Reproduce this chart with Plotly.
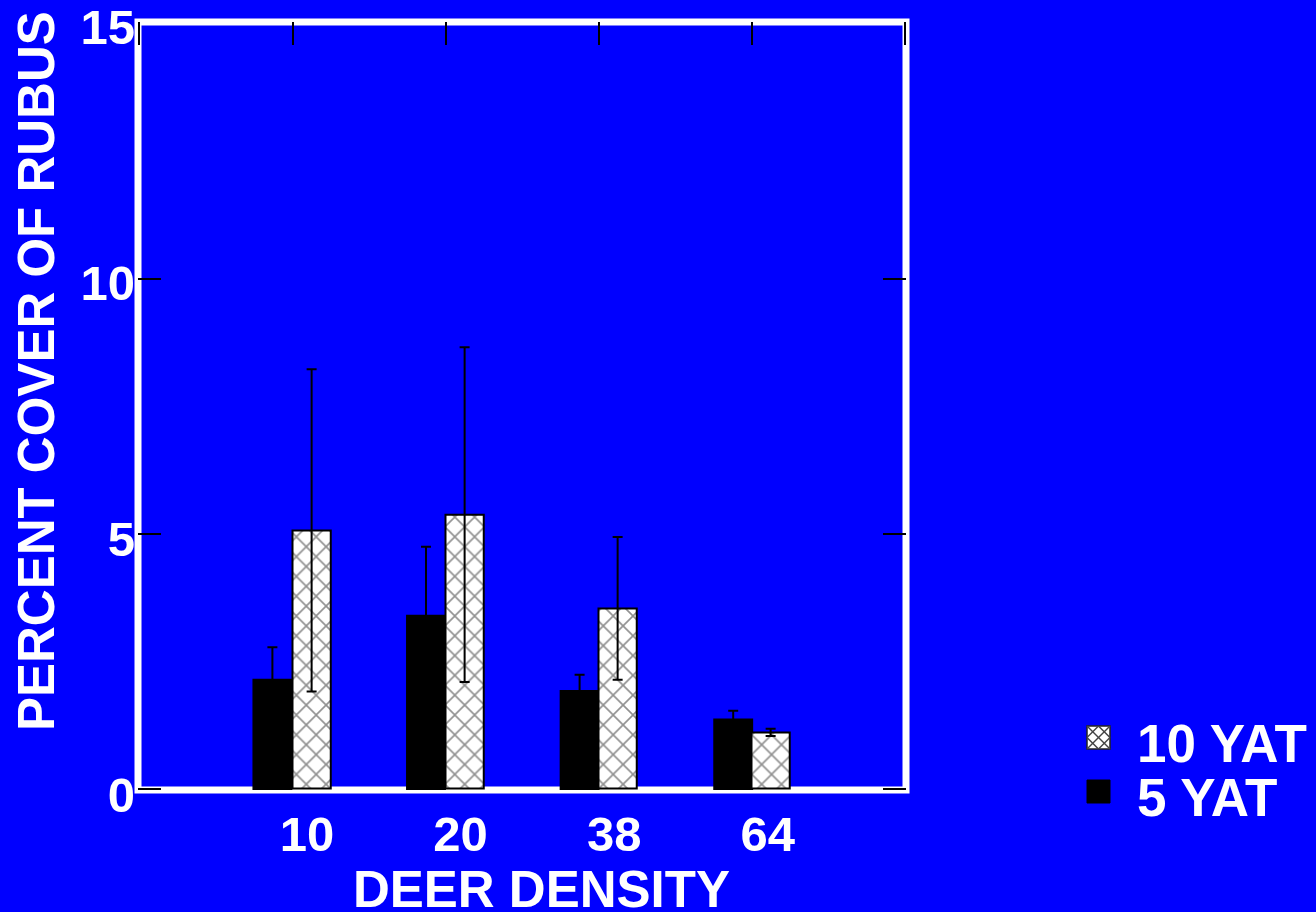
import plotly.graph_objects as go

# Percent cover of Rubus by deer density, 5 and 10 years after treatment
densities = ["10", "20", "38", "64"]
positions = [1, 2, 3, 4]
cover_5yat = [2.16, 3.41, 1.94, 1.38]
err_5yat = [0.63, 1.34, 0.31, 0.17]
cover_10yat = [5.06, 5.37, 3.53, 1.10]
err_10yat = [3.16, 3.28, 1.40, 0.07]
y_ticks = [0, 5, 10, 15]
y_marks = [0, 5, 10]
x_marks = [0, 1, 2, 3, 4, 5]

BLUE = "#0000FF"
FAMILY = "Liberation Sans, Arial, sans-serif"
TITLE_FONT = dict(family=FAMILY, size=51, color="white", weight="bold")
TICK_FONT = dict(family=FAMILY, size=49, color="white", weight="bold")
LEGEND_FONT = dict(family=FAMILY, size=53, color="white", weight="bold")
L, T, W, H = 138, 22, 768, 768  # plot area in pixels
X_RANGE = [0, 5]
Y_RANGE = [0, 15]
# inside ticks closer than 1px to an axis end are skipped by plotly,
# so the tick-carrying axes are widened by 1.5px on each side
EDGE_PX = 1.5
X_EDGE = EDGE_PX / W * (X_RANGE[1] - X_RANGE[0])
Y_EDGE = EDGE_PX / H * (Y_RANGE[1] - Y_RANGE[0])


def px(x):
    return (x - L) / W


def py(y):
    return (T + H - y) / H


bar_w = 0.25
fig = go.Figure()
# 5 YAT bars sit on the labelled axes
fig.add_trace(go.Bar(
    x=positions, y=cover_5yat, name="5 YAT", width=bar_w, offset=-bar_w,
    marker=dict(color="black", line=dict(color="black", width=1.5)),
    error_y=dict(type="data", array=err_5yat, color="black", thickness=2, width=5),
    showlegend=False, xaxis="x", yaxis="y",
))
# 10 YAT bars sit on the overlaid axes that carry the inside tick marks
fig.add_trace(go.Bar(
    x=positions, y=cover_10yat, name="10 YAT", width=bar_w, offset=0,
    marker=dict(color="white", line=dict(color="black", width=2),
                pattern=dict(shape="x", bgcolor="white", fgcolor="#222222",
                             size=14, solidity=0.22)),
    error_y=dict(type="data", array=err_10yat, color="black", thickness=2, width=5),
    showlegend=False, xaxis="x2", yaxis="y2",
))

shapes = [
    # white frame around the plotting area
    dict(type="rect", xref="paper", yref="paper", x0=0, x1=1, y0=0, y1=1,
         line=dict(color="white", width=7), layer="below"),
    # legend swatches
    dict(type="rect", xref="paper", yref="paper", x0=px(1087), x1=px(1110),
         y0=py(803), y1=py(780), fillcolor="black", line=dict(color="black", width=1)),
    dict(type="rect", xref="paper", yref="paper", x0=px(1087), x1=px(1110),
         y0=py(749), y1=py(726), fillcolor="white", line=dict(color="#222222", width=1.5)),
]
# crosshatch inside the 10 YAT swatch
sx0, sx1, sy0, sy1 = 1087, 1110, 726, 749
mx, my = (sx0 + sx1) / 2, (sy0 + sy1) / 2
hatch = [
    ((sx0, sy0), (sx1, sy1)), ((sx0, sy1), (sx1, sy0)),
    ((sx0, my), (mx, sy0)), ((mx, sy0), (sx1, my)),
    ((sx1, my), (mx, sy1)), ((mx, sy1), (sx0, my)),
]
for (a, b) in hatch:
    shapes.append(dict(type="line", xref="paper", yref="paper",
                       x0=px(a[0]), y0=py(a[1]), x1=px(b[0]), y1=py(b[1]),
                       line=dict(color="#444444", width=1.5)))

annotations = [
    dict(text="PERCENT COVER OF RUBUS", textangle=-90, xref="paper", yref="paper",
         x=px(36), y=py(371), xanchor="center", yanchor="middle", showarrow=False,
         font=TITLE_FONT),
    dict(text="DEER DENSITY", xref="paper", yref="paper",
         x=px(541), y=py(889), xanchor="center", yanchor="middle", showarrow=False,
         font=TITLE_FONT),
    dict(text="10 YAT", xref="paper", yref="paper", x=px(1135), y=py(743),
         xanchor="left", yanchor="middle", showarrow=False, font=LEGEND_FONT),
    dict(text="5 YAT", xref="paper", yref="paper", x=px(1135), y=py(797),
         xanchor="left", yanchor="middle", showarrow=False, font=LEGEND_FONT),
]

tick_style = dict(ticks="inside", ticklen=23, tickwidth=2, tickcolor="black",
                  showticklabels=False, showgrid=False, zeroline=False, showline=False)

fig.update_layout(
    width=1316, height=912,
    margin=dict(l=L, r=1316 - L - W, t=T, b=912 - T - H, autoexpand=False),
    paper_bgcolor=BLUE, plot_bgcolor=BLUE,
    barmode="overlay",
    xaxis=dict(range=X_RANGE, tickvals=[p + 0.1 for p in positions], ticktext=densities,
               ticks="", showgrid=False, zeroline=False, showline=False,
               tickfont=TICK_FONT, ticklabelstandoff=11, ticklabeloverflow="allow"),
    xaxis2=dict(range=[X_RANGE[0] - X_EDGE, X_RANGE[1] + X_EDGE], overlaying="x",
                side="top", anchor="y2", tickvals=x_marks, **tick_style),
    yaxis=dict(range=Y_RANGE, tickvals=y_ticks, ticktext=[str(v) for v in y_ticks],
               ticks="", showgrid=False, zeroline=False, showline=False,
               tickfont=TICK_FONT, ticklabelstandoff=2, ticklabelshift=5,
               ticklabeloverflow="allow"),
    yaxis2=dict(range=[Y_RANGE[0] - Y_EDGE, Y_RANGE[1] + Y_EDGE], overlaying="y",
                side="left", anchor="x2", tickvals=y_marks, mirror="ticks", **tick_style),
    shapes=shapes,
    annotations=annotations,
    showlegend=False,
)

fig.write_html("out.html")
